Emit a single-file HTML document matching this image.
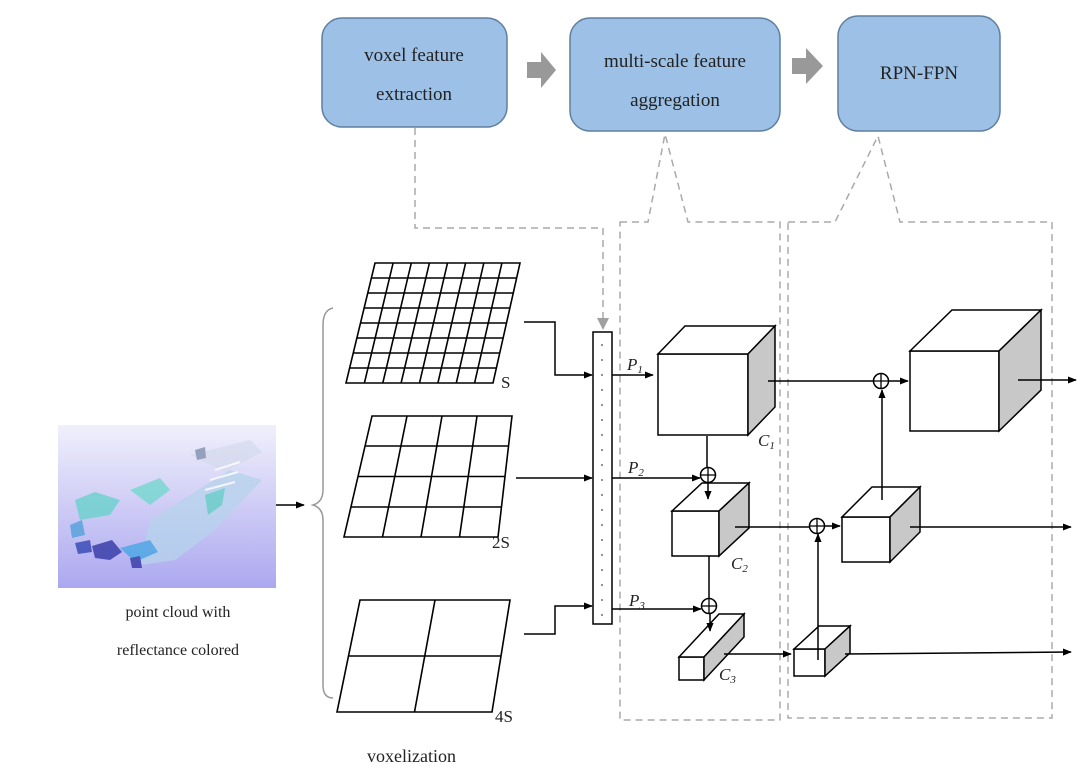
<!DOCTYPE html>
<html><head><meta charset="utf-8"><style>
html,body{margin:0;padding:0;background:#fff;}
svg{display:block;}
text{font-family:"Liberation Serif",serif;fill:#222;}
</style></head><body>
<svg width="1080" height="767" viewBox="0 0 1080 767" xmlns="http://www.w3.org/2000/svg">
<defs>
<marker id="ar" viewBox="0 0 10 10" refX="9" refY="5" markerWidth="9" markerHeight="9" orient="auto" markerUnits="userSpaceOnUse"><path d="M0,1 L10,5 L0,9 z" fill="#000"/></marker>
<linearGradient id="pc" x1="0" y1="0" x2="0" y2="1"><stop offset="0" stop-color="#f0f0fb"/><stop offset="1" stop-color="#aca8f0"/></linearGradient>
</defs>

<!-- top boxes -->
<rect x="322" y="18" width="185" height="109" rx="20" fill="#9cc0e6" stroke="#5f7f9f" stroke-width="1.5"/>
<rect x="570" y="18" width="210" height="113" rx="20" fill="#9cc0e6" stroke="#5f7f9f" stroke-width="1.5"/>
<rect x="838" y="16" width="162" height="115" rx="20" fill="#9cc0e6" stroke="#5f7f9f" stroke-width="1.5"/>
<text x="414" y="61" font-size="19" text-anchor="middle">voxel feature</text>
<text x="414" y="100" font-size="19" text-anchor="middle">extraction</text>
<text x="675" y="67" font-size="19" text-anchor="middle">multi-scale feature</text>
<text x="675" y="106" font-size="19" text-anchor="middle">aggregation</text>
<text x="919" y="79" font-size="19" text-anchor="middle">RPN-FPN</text>
<path d="M527,62 L541,62 L541,52 L556,70 L541,88 L541,78 L527,78 z" fill="#999"/>
<path d="M792,58 L806,58 L806,48 L823,66 L806,84 L806,74 L792,74 z" fill="#999"/>

<!-- dashed -->
<g fill="none" stroke="#aaa" stroke-width="1.5" stroke-dasharray="7,5">
<path d="M415,128 L415,228 L603,228 L603,318"/>
<path d="M620,222 L648,222 L665,134 L688,222 L780,222 L780,720 L620,720 z"/>
<path d="M788,222 L835,222 L878,136 L900,222 L1052,222 L1052,718 L788,718 z"/>
</g>
<path d="M597,318 L609,318 L603,330 z" fill="#a0a0a0"/>

<!-- point cloud image -->
<rect x="58" y="425" width="218" height="163" fill="url(#pc)"/>
<g opacity="0.75">
<path d="M150,520 L230,470 L262,480 L215,530 L175,560 L140,565 z" fill="#b6d4ec"/>
<path d="M190,455 L250,440 L262,452 L225,472 z" fill="#d6dbee"/>
<path d="M75,500 L95,492 L120,500 L110,515 L80,520 z" fill="#62d2c8"/>
<path d="M130,490 L160,478 L170,490 L150,505 z" fill="#6ed8cc"/>
<path d="M205,495 L225,488 L222,505 L208,515 z" fill="#5ccfc3"/>
<path d="M92,546 L112,540 L122,552 L110,560 L95,558 z" fill="#2a2fa0"/>
<path d="M75,543 L90,540 L92,552 L78,554 z" fill="#2a3fb0"/>
<path d="M120,548 L150,540 L158,552 L135,562 z" fill="#40a6e4"/>
<path d="M130,558 L140,556 L142,568 L132,568 z" fill="#2a2fa0"/>
<path d="M70,525 L82,520 L85,535 L72,538 z" fill="#4aa0d8"/>
<path d="M195,450 L205,447 L206,458 L197,460 z" fill="#7a8aa8"/>
<path d="M215,470 L240,462 M210,480 L238,472 M205,490 L235,482" stroke="#ffffff" stroke-width="2"/>
</g>
<text x="178" y="617" font-size="16" text-anchor="middle">point cloud with</text>
<text x="178" y="655" font-size="16" text-anchor="middle">reflectance colored</text>
<line x1="276" y1="505" x2="304" y2="505" stroke="#000" stroke-width="1.5" marker-end="url(#ar)"/>

<!-- brace -->
<path d="M333,308 Q323,310 323,325 L323,490 Q323,502 313,505 Q323,508 323,520 L323,685 Q323,698 333,698" fill="none" stroke="#999" stroke-width="1.5"/>

<!-- grids -->
<g stroke="#000" stroke-width="1.6" fill="none">
<path d="M375,263 L520,263 L493,383 L346,383 z"/>
<path d="M371.4,278 L516.6,278 M367.8,293 L513.3,293 M364.1,308 L509.9,308 M360.5,323 L506.5,323 M356.9,338 L503.1,338 M353.3,353 L499.8,353 M349.6,368 L496.4,368"/>
<path d="M393.1,263 L364.4,383 M411.3,263 L382.8,383 M429.4,263 L401.1,383 M447.5,263 L419.5,383 M465.6,263 L437.9,383 M483.8,263 L456.3,383 M501.9,263 L474.6,383"/>
<path d="M372,416 L512,416 L498,537 L344,537 z"/>
<path d="M365,446 L508.5,446 M358,476.5 L505,476.5 M351,507 L501.5,507"/>
<path d="M407,416 L382.5,537 M442,416 L421,537 M477,416 L459.5,537"/>
<path d="M360,600 L510,600 L492,712 L337,712 z"/>
<path d="M348.5,656 L501,656 M435,600 L414.5,712"/>
</g>
<text x="501" y="388" font-size="17">S</text>
<text x="492" y="548" font-size="17">2S</text>
<text x="495" y="722" font-size="17">4S</text>
<text x="367" y="762" font-size="18">voxelization</text>

<g stroke="#000" stroke-width="1.5" fill="none" marker-end="url(#ar)">
<path d="M524,322 L555,322 L555,375 L592,375"/>
<path d="M516,478 L592,478"/>
<path d="M524,634 L555,634 L555,606 L592,606"/>
</g>

<!-- bar -->
<rect x="593" y="332" width="19" height="292" fill="#fff" stroke="#000" stroke-width="1.5"/>
<g fill="#444">
<circle cx="602" cy="345" r="0.9"/><circle cx="602" cy="360" r="0.9"/><circle cx="602" cy="375" r="0.9"/><circle cx="602" cy="390" r="0.9"/><circle cx="602" cy="405" r="0.9"/><circle cx="602" cy="420" r="0.9"/><circle cx="602" cy="435" r="0.9"/><circle cx="602" cy="450" r="0.9"/><circle cx="602" cy="465" r="0.9"/><circle cx="602" cy="480" r="0.9"/><circle cx="602" cy="495" r="0.9"/><circle cx="602" cy="510" r="0.9"/><circle cx="602" cy="525" r="0.9"/><circle cx="602" cy="540" r="0.9"/><circle cx="602" cy="555" r="0.9"/><circle cx="602" cy="570" r="0.9"/><circle cx="602" cy="585" r="0.9"/><circle cx="602" cy="600" r="0.9"/><circle cx="602" cy="615" r="0.9"/>
</g>

<!-- cubes -->
<g stroke="#000" stroke-width="1.5">
<rect x="658" y="354" width="90" height="81" fill="#fff"/>
<path d="M658,354 L685,326 L775,326 L748,354 z" fill="#fff"/>
<path d="M748,354 L775,326 L775,407 L748,435 z" fill="#c8c8c8"/>
<rect x="672" y="511" width="47" height="45" fill="#fff"/>
<path d="M672,511 L702,483 L749,483 L719,511 z" fill="#fff"/>
<path d="M719,511 L749,483 L749,528 L719,556 z" fill="#c8c8c8"/>
<rect x="679" y="657" width="25" height="23" fill="#fff"/>
<path d="M679,657 L719,614 L744,614 L704,657 z" fill="#fff"/>
<path d="M704,657 L744,614 L744,637 L704,680 z" fill="#c8c8c8"/>
<rect x="910" y="351" width="89" height="80" fill="#fff"/>
<path d="M910,351 L952,310 L1041,310 L999,351 z" fill="#fff"/>
<path d="M999,351 L1041,310 L1041,390 L999,431 z" fill="#c8c8c8"/>
<rect x="842" y="517" width="48" height="45" fill="#fff"/>
<path d="M842,517 L872,487 L920,487 L890,517 z" fill="#fff"/>
<path d="M890,517 L920,487 L920,532 L890,562 z" fill="#c8c8c8"/>
<rect x="794" y="649" width="31" height="27" fill="#fff"/>
<path d="M794,649 L819,626 L850,626 L825,649 z" fill="#fff"/>
<path d="M825,649 L850,626 L850,653 L825,676 z" fill="#c8c8c8"/>
</g>

<g stroke="#000" stroke-width="1.5" fill="#fff">
<circle cx="881" cy="381" r="7.5"/><circle cx="708" cy="475" r="7.5"/><circle cx="709" cy="606" r="7.5"/><circle cx="817" cy="526" r="7.5"/>
</g>
<g stroke="#000" stroke-width="1.3">
<path d="M873.5,381 L888.5,381 M881,373.5 L881,388.5"/>
<path d="M700.5,475 L715.5,475 M708,467.5 L708,482.5"/>
<path d="M701.5,606 L716.5,606 M709,598.5 L709,613.5"/>
<path d="M809.5,526 L824.5,526 M817,518.5 L817,533.5"/>
</g>

<g stroke="#000" stroke-width="1.5" fill="none">
<path d="M768,381 L873,381"/>
<path d="M707,436 L707,467"/>
<path d="M709,556 L709,598"/>
<path d="M735,527 L809,527"/>
</g>
<g stroke="#000" stroke-width="1.5" fill="none" marker-end="url(#ar)">
<path d="M612,375 L653,375"/>
<path d="M888,381 L908,381"/>
<path d="M1018,380 L1076,380"/>
<path d="M882,500 L882,390"/>
<path d="M612,478 L700,478"/>
<path d="M708,482 L708,499"/>
<path d="M612,609 L701,609"/>
<path d="M710,613 L710,631"/>
<path d="M724,654 L791,654"/>
<path d="M824,526 L840,526"/>
<path d="M818,660 L818,534"/>
<path d="M910,527 L1071,527"/>
<path d="M845,654 L1071,652"/>
</g>

<g font-style="italic" font-size="17">
<text x="627" y="370">P<tspan font-size="11" dy="3">1</tspan></text>
<text x="628" y="473">P<tspan font-size="11" dy="3">2</tspan></text>
<text x="629" y="606">P<tspan font-size="11" dy="3">3</tspan></text>
<text x="758" y="446">C<tspan font-size="11" dy="3">1</tspan></text>
<text x="731" y="569">C<tspan font-size="11" dy="3">2</tspan></text>
<text x="719" y="680">C<tspan font-size="11" dy="3">3</tspan></text>
</g>
</svg>
</body></html>
